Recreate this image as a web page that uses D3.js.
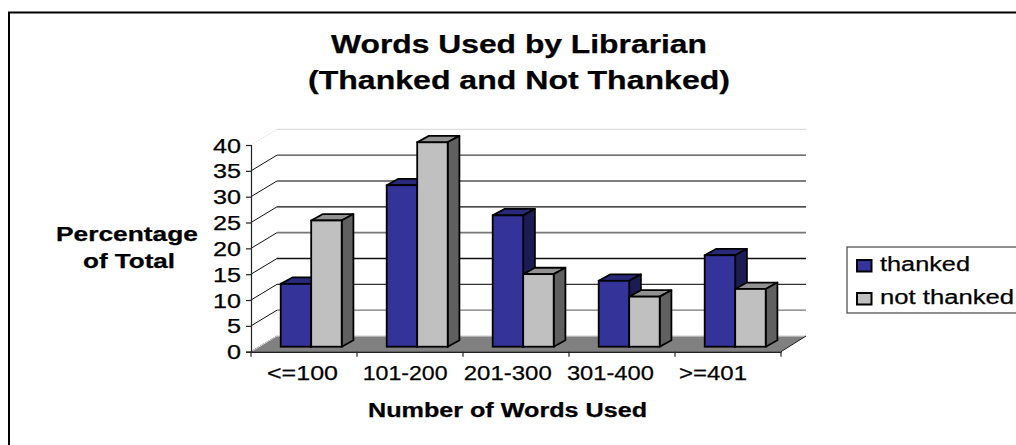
<!DOCTYPE html>
<html><head><meta charset="utf-8">
<script src="https://cdn.jsdelivr.net/npm/d3@7"></script>
<style>html,body{margin:0;padding:0;background:#fff}svg{display:block}text{font-family:"Liberation Sans",Arial,sans-serif;fill:#000;stroke:#000;stroke-width:.25px}</style>
</head><body><div id="c"></div>
<script>
const categories = ["<=100","101-200","201-300","301-400",">=401"];
const seriesNames = ["thanked","not thanked"];
const thanked = [12.3,31.6,25.7,12.9,17.9];
const notThanked = [24.7,40,14.2,9.8,11.3];
const yTicks = [0,5,10,15,20,25,30,35,40];
const titleLines = ["Words Used by Librarian","(Thanked and Not Thanked)"];
const yTitleLines = ["Percentage","of Total"];
const xTitle = "Number of Words Used";

const W=1016,H=445;
const svg=d3.select("#c").append("svg").attr("width",W).attr("height",H);
const fills=[{front:"#333399",top:"#29297a",side:"#1c1c55"},{front:"#c0c0c0",top:"#929292",side:"#606060"}];
const gridColors=["#ddd","#777","#333","#111","#777","#111","#555","#444","#ddd"];
const dX=26,dY=15.7,sX=11.7,sY=6.4;

function label(sel,x,y,txt,size,weight,len,anchor){
  return sel.append("text").attr("x",x).attr("y",y).attr("font-size",size).attr("font-weight",weight||"normal")
    .attr("text-anchor",anchor||"start").attr("textLength",len).attr("lengthAdjust","spacingAndGlyphs").text(txt);
}
// outer frame, runs off the right and bottom edges
svg.append("rect").attr("x",9).attr("y",12.5).attr("width",1100).attr("height",600).attr("fill","#fff").attr("stroke","#000").attr("stroke-width",2);

// title
label(svg,331,52.7,titleLines[0],26,"bold",376);
label(svg,308,89,titleLines[1],26,"bold",422);

const x=d3.scaleBand().domain(categories).range([251,781]);
const x1=d3.scaleBand().domain(seriesNames).range([0,61]);
const yAxisScale=d3.scaleLinear().domain([0,40]).range([351.7,145]);
const yBar=d3.scaleLinear().domain([0,40]).range([346.7,142.3]);

// wall gridlines
const g=svg.append("g");
yTicks.forEach((t,i)=>{
  const y=yAxisScale(t);
  g.append("line").attr("x1",251).attr("y1",y).attr("x2",251+dX).attr("y2",y-dY)
    .attr("stroke",i==8?"#ccc":"#111").attr("stroke-width",i==8?.7:1).attr("stroke-dasharray",i==8?"1 1":null);
  g.append("line").attr("x1",251+dX).attr("y1",y-dY).attr("x2",806).attr("y2",y-dY)
    .attr("stroke",gridColors[i]).attr("stroke-width",i==4?1.8:1.3);
});
// floor
const r0=yAxisScale(0);
svg.append("path").attr("d",d3.line()([[251,r0],[781,r0],[806,r0-dY],[277,r0-dY]])+"Z").attr("fill","#808080");
svg.append("line").attr("x1",277).attr("y1",r0-dY).attr("x2",806).attr("y2",r0-dY).attr("stroke","#e4e4e4").attr("stroke-width",1.2);
svg.append("line").attr("x1",277).attr("y1",r0-dY).attr("x2",251).attr("y2",r0).attr("stroke","#ddd").attr("stroke-width",1);
svg.append("line").attr("x1",781).attr("y1",r0).attr("x2",806).attr("y2",r0-dY).attr("stroke","#222").attr("stroke-width",1);

// y axis
const yAx=svg.append("g").attr("transform","translate(251,0)").call(d3.axisLeft(yAxisScale).tickValues(yTicks).tickSize(5));
yAx.selectAll("path,line").attr("stroke","#222").attr("stroke-width",1.2);
yAx.selectAll("text").attr("x",-10).attr("font-size",19.5).attr("font-family",'"Liberation Sans",Arial,sans-serif')
  .attr("dy","0.36em").attr("textLength",d=>d>=10?28:14).attr("lengthAdjust","spacingAndGlyphs");
// x axis
const xAx=svg.append("g").attr("transform",`translate(0,${r0})`).call(d3.axisBottom(x).tickValues([]).tickSize(0));
xAx.select("path").attr("stroke","#222").attr("stroke-width",1.6);
svg.append("g").selectAll("line").data(x.domain().concat(["end"])).join("line")
  .attr("x1",(d,i)=>x.range()[0]+i*x.step()).attr("x2",(d,i)=>x.range()[0]+i*x.step())
  .attr("y1",r0).attr("y2",r0+5).attr("stroke","#222").attr("stroke-width",1.2);

// bars
const barOffset=29.7;
function bar(sel,x0,w,v,c){
  const b=yBar(0),t=yBar(v);
  const p=d3.line();
  const sw=1.8;
  sel.append("path").attr("d",p([[x0,t],[x0+sX,t-sY],[x0+w+sX,t-sY],[x0+w,t]])+"Z").attr("fill",c.top).attr("stroke","#000").attr("stroke-width",sw).attr("stroke-linejoin","round");
  sel.append("path").attr("d",p([[x0+w,t],[x0+w+sX,t-sY],[x0+w+sX,b-sY],[x0+w,b]])+"Z").attr("fill",c.side).attr("stroke","#000").attr("stroke-width",sw).attr("stroke-linejoin","round");
  sel.append("rect").attr("x",x0).attr("y",t).attr("width",w).attr("height",b-t).attr("fill",c.front).attr("stroke","#000").attr("stroke-width",sw);
}
const barsG=svg.append("g");
categories.forEach((c,i)=>{
  [thanked,notThanked].forEach((s,j)=>{
    bar(barsG,x(c)+barOffset+x1(seriesNames[j]),x1.bandwidth(),s[i],fills[j]);
  });
});

// category labels
const xl=d3.scalePoint().domain(categories).range([302.5,713]);
const labelWidths=[71,85,88,87,68];
categories.forEach((c,i)=>label(svg,xl(c),380,c,21,"normal",labelWidths[i],"middle"));

// axis titles
label(svg,368,416.7,xTitle,20,"bold",279);
label(svg,56,240.7,yTitleLines[0],19.5,"bold",142);
label(svg,83,267.7,yTitleLines[1],19.5,"bold",92);

// legend, runs off the right edge
svg.append("rect").attr("x",847).attr("y",247).attr("width",200).attr("height",66).attr("fill","#fff").attr("stroke","#444").attr("stroke-width",1.2);
[[260,270.7,90],[293,304,134]].forEach((r,i)=>{
  svg.append("rect").attr("x",857).attr("y",r[0]).attr("width",14.5).attr("height",11.5).attr("fill",fills[i].front).attr("stroke","#000").attr("stroke-width",2);
  label(svg,880,r[1],seriesNames[i],20,"normal",r[2]);
});
</script></body></html>
